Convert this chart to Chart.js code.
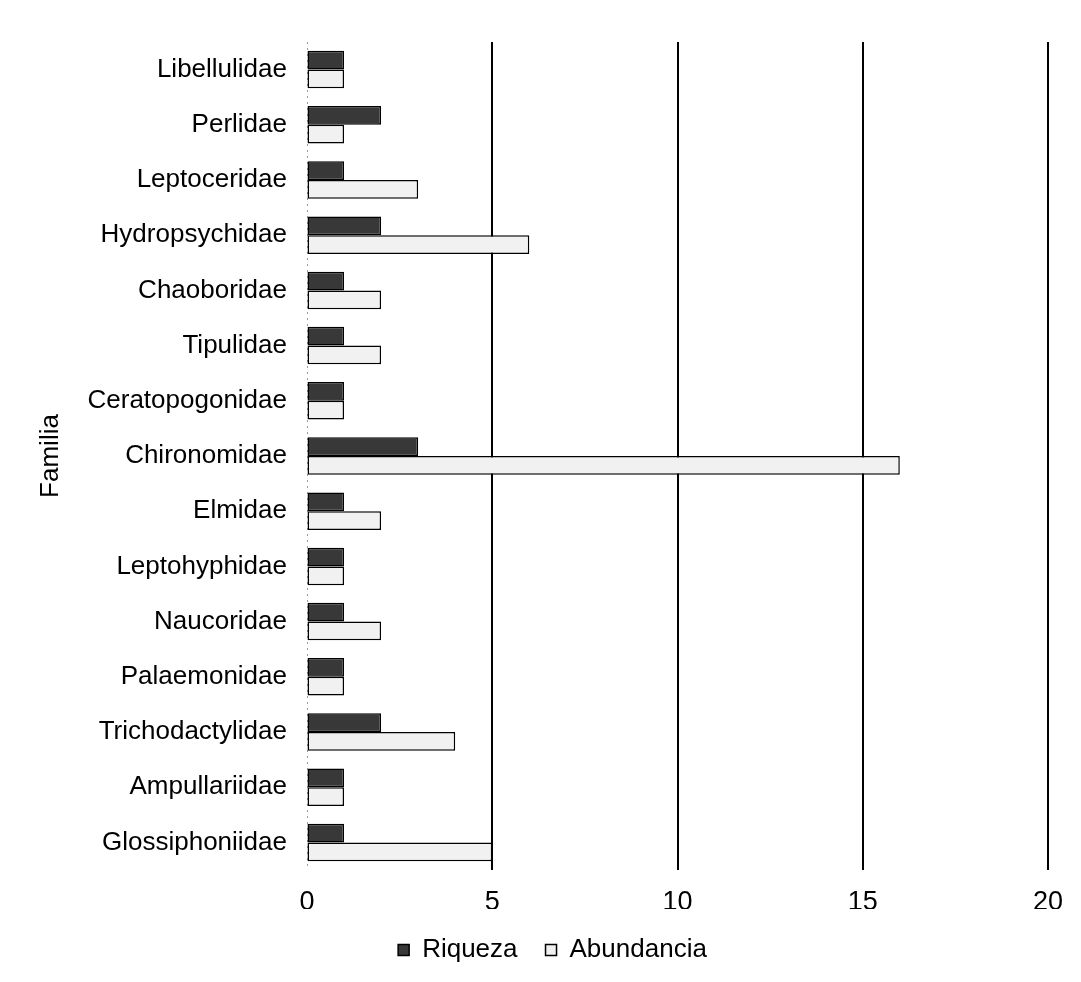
<!DOCTYPE html>
<html>
<head>
<meta charset="utf-8">
<script src="https://cdn.jsdelivr.net/npm/chart.js@4/dist/chart.umd.min.js"></script>
<style>
  html, body { margin: 0; padding: 0; background: #ffffff; }
  canvas { display: block; }
</style>
</head>
<body>
<canvas id="chart" width="1081" height="982"></canvas>
<script>
// Families, listed top to bottom
const familias = [
  'Libellulidae', 'Perlidae', 'Leptoceridae', 'Hydropsychidae', 'Chaoboridae',
  'Tipulidae', 'Ceratopogonidae', 'Chironomidae', 'Elmidae', 'Leptohyphidae',
  'Naucoridae', 'Palaemonidae', 'Trichodactylidae', 'Ampullariidae', 'Glossiphoniidae'
];

// Number of taxa per family
const riqueza = [1, 2, 1, 2, 1, 1, 1, 3, 1, 1, 1, 1, 2, 1, 1];

// Number of individuals per family
const abundancia = [1, 1, 3, 6, 2, 2, 1, 16, 2, 1, 2, 1, 4, 1, 5];

// Value axis ticks
const xTicks = [0, 5, 10, 15, 20];

const FONT = "'Liberation Sans', Arial, sans-serif";

// Nudges the centred legend a little to the right
const legendShift = {
  id: 'legendShift',
  afterLayout(chart) {
    if (chart.legend) {
      chart.legend.left += 11;
      chart.legend.right += 11;
    }
  }
};

new Chart(document.getElementById('chart'), {
  type: 'bar',
  data: {
    labels: familias,
    datasets: [
      {
        label: 'Riqueza',
        data: riqueza,
        backgroundColor: '#383838',
        borderColor: '#000000',
        borderWidth: 1.5,
        borderSkipped: false
      },
      {
        label: 'Abundancia',
        data: abundancia,
        backgroundColor: '#f1f1f1',
        borderColor: '#000000',
        borderWidth: 1.5,
        borderSkipped: false
      }
    ]
  },
  options: {
    indexAxis: 'y',
    responsive: false,
    animation: false,
    categoryPercentage: 0.68,
    barPercentage: 1.0,
    layout: { padding: { top: 42, right: 33, bottom: 9, left: 35 } },
    plugins: {
      legend: {
        position: 'bottom',
        labels: {
          font: { family: FONT, size: 26 },
          color: '#000000',
          boxWidth: 11,
          boxHeight: 11,
          padding: 28
        }
      },
      tooltip: { enabled: false }
    },
    scales: {
      x: {
        min: xTicks[0],
        max: xTicks[xTicks.length - 1],
        afterBuildTicks(scale) {
          scale.ticks = xTicks.map(v => ({ value: v }));
        },
        afterFit(scale) { scale.height = 39; },
        ticks: {
          font: { family: FONT, size: 27 },
          color: '#000000',
          padding: 16
        },
        grid: {
          drawTicks: false,
          color: ctx => (ctx.tick && ctx.tick.value === 0) ? '#9a9a9a' : '#000000',
          lineWidth: ctx => (ctx.tick && ctx.tick.value === 0) ? 1 : 2
        },
        border: {
          display: false,
          dash: ctx => (ctx.tick && ctx.tick.value === 0) ? [2, 4] : []
        }
      },
      y: {
        afterFit(scale) { scale.width = 272; },
        ticks: {
          font: { family: FONT, size: 26 },
          color: '#000000',
          padding: 20
        },
        grid: { display: false, drawTicks: false },
        border: { display: false },
        title: {
          display: true,
          text: 'Familia',
          font: { family: FONT, size: 26 },
          color: '#000000',
          padding: 0
        }
      }
    }
  },
  plugins: [legendShift]
});
</script>
</body>
</html>
